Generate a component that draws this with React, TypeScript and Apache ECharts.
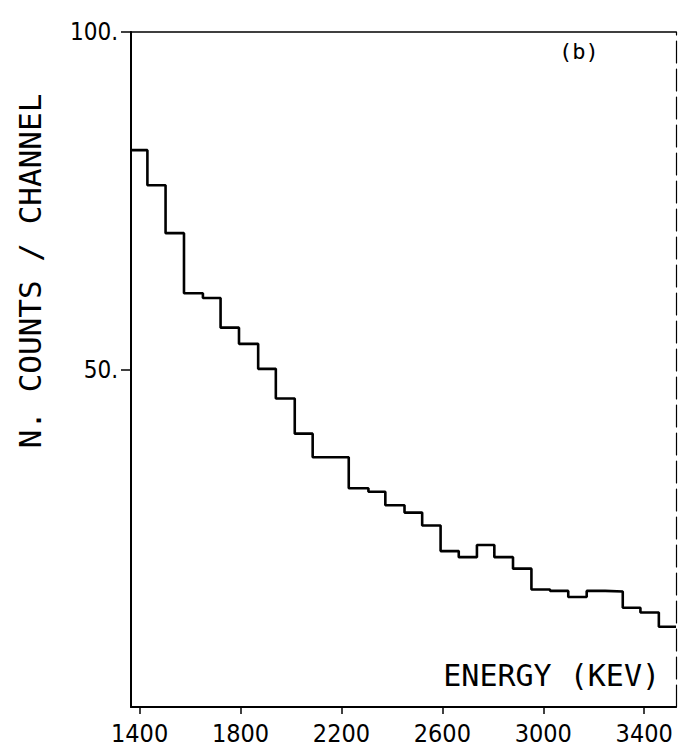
import React, { useEffect, useRef } from "react";
import * as echarts from "echarts";

// Channel edges (keV), 30 channels
const energyEdges = [
  1366, 1431, 1503, 1576, 1651, 1721, 1794, 1870, 1940, 2015, 2086, 2158, 2229,
  2307, 2374, 2450, 2520, 2593, 2665, 2737, 2806, 2880, 2953, 3027, 3099, 3172,
  3245, 3315, 3385, 3458, 3526,
];
// Counts per channel
const counts = [
  82.5, 77.3, 70.2, 61.3, 60.6, 56.2, 53.8, 50.1, 45.7, 40.5, 37.0, 37.0, 32.4,
  31.9, 29.9, 28.8, 26.9, 23.1, 22.2, 24.0, 22.2, 20.5, 17.4, 17.2, 16.3, 17.2,
  17.1, 14.7, 14.0, 11.9,
];
const xTicks = [1400, 1800, 2200, 2600, 3000, 3400];
const yTicks = [50, 100];

const FONT = "'DejaVu Sans Mono', monospace";
const NUMFONT = "'Liberation Sans Narrow', 'DejaVu Sans Condensed', sans-serif";

export default function App() {
  const ref = useRef<HTMLDivElement>(null);
  useEffect(() => {
    document.body.style.margin = "0";
    const chart = echarts.init(ref.current!, null, { renderer: "svg" });
    const stepData: [number, number][] = counts.map((c, i) => [energyEdges[i], c]);
    stepData.push([energyEdges[energyEdges.length - 1], counts[counts.length - 1]]);
    const xMin = energyEdges[0];
    const xMax = energyEdges[energyEdges.length - 1];
    chart.setOption({
      animation: false,
      backgroundColor: "#fff",
      grid: { left: 131, top: 32, width: 545, height: 675, containLabel: false },
      xAxis: [
        {
          type: "value",
          min: xMin,
          max: xMax,
          position: "bottom",
          axisLine: { show: true, onZero: false, lineStyle: { color: "#000", width: 2 } },
          axisTick: { show: true, inside: false, length: 7, customValues: xTicks, lineStyle: { color: "#000", width: 1.5 } },
          axisLabel: {
            customValues: xTicks,
            formatter: (v: number) => String(v),
            color: "#000",
            fontSize: 25,
            fontFamily: NUMFONT,
            margin: 14,
          },
          splitLine: { show: false },
        },
        {
          type: "value",
          min: xMin,
          max: xMax,
          position: "top",
          axisLine: { show: true, onZero: false, lineStyle: { color: "#000", width: 1.5 } },
          axisTick: { show: false },
          axisLabel: { show: false },
          splitLine: { show: false },
        },
      ],
      yAxis: [
        {
          type: "value",
          min: 0,
          max: 100,
          position: "left",
          axisLine: { show: true, onZero: false, lineStyle: { color: "#000", width: 2 } },
          axisTick: { show: true, inside: false, length: 10, customValues: yTicks, lineStyle: { color: "#000", width: 1.5 } },
          axisLabel: {
            customValues: yTicks,
            formatter: (v: number) => `${v}.`,
            color: "#000",
            fontSize: 24,
            fontFamily: NUMFONT,
            margin: 13,
          },
          splitLine: { show: false },
        },
        {
          type: "value",
          min: 0,
          max: 100,
          position: "right",
          axisLine: { show: true, onZero: false, lineStyle: { color: "#000", width: 1.2, type: [22, 6] } },
          axisTick: { show: false },
          axisLabel: { show: false },
          splitLine: { show: false },
        },
      ],
      series: [
        {
          type: "line",
          step: "end",
          data: stepData,
          showSymbol: false,
          symbol: "none",
          lineStyle: { color: "#000", width: 2.6 },
          xAxisIndex: 0,
          yAxisIndex: 0,
        },
      ],
      graphic: [
        {
          type: "text",
          left: 559,
          top: 40,
          style: { text: "(b)", fill: "#000", font: `22px ${FONT}` },
        },
        {
          type: "text",
          right: 20,
          top: 660,
          style: { text: "ENERGY (KEV)", fill: "#000", font: `30px ${FONT}` },
        },
        {
          type: "text",
          x: 30,
          y: 271,
          rotation: Math.PI / 2,
          style: {
            text: "N. COUNTS / CHANNEL",
            fill: "#000",
            font: `31px ${FONT}`,
            align: "center",
            verticalAlign: "middle",
          },
        },
      ],
    });
    return () => chart.dispose();
  }, []);
  return (
    <div
      ref={ref}
      style={{ position: "fixed", left: 0, top: 0, width: 680, height: 751, background: "#fff" }}
    />
  );
}
